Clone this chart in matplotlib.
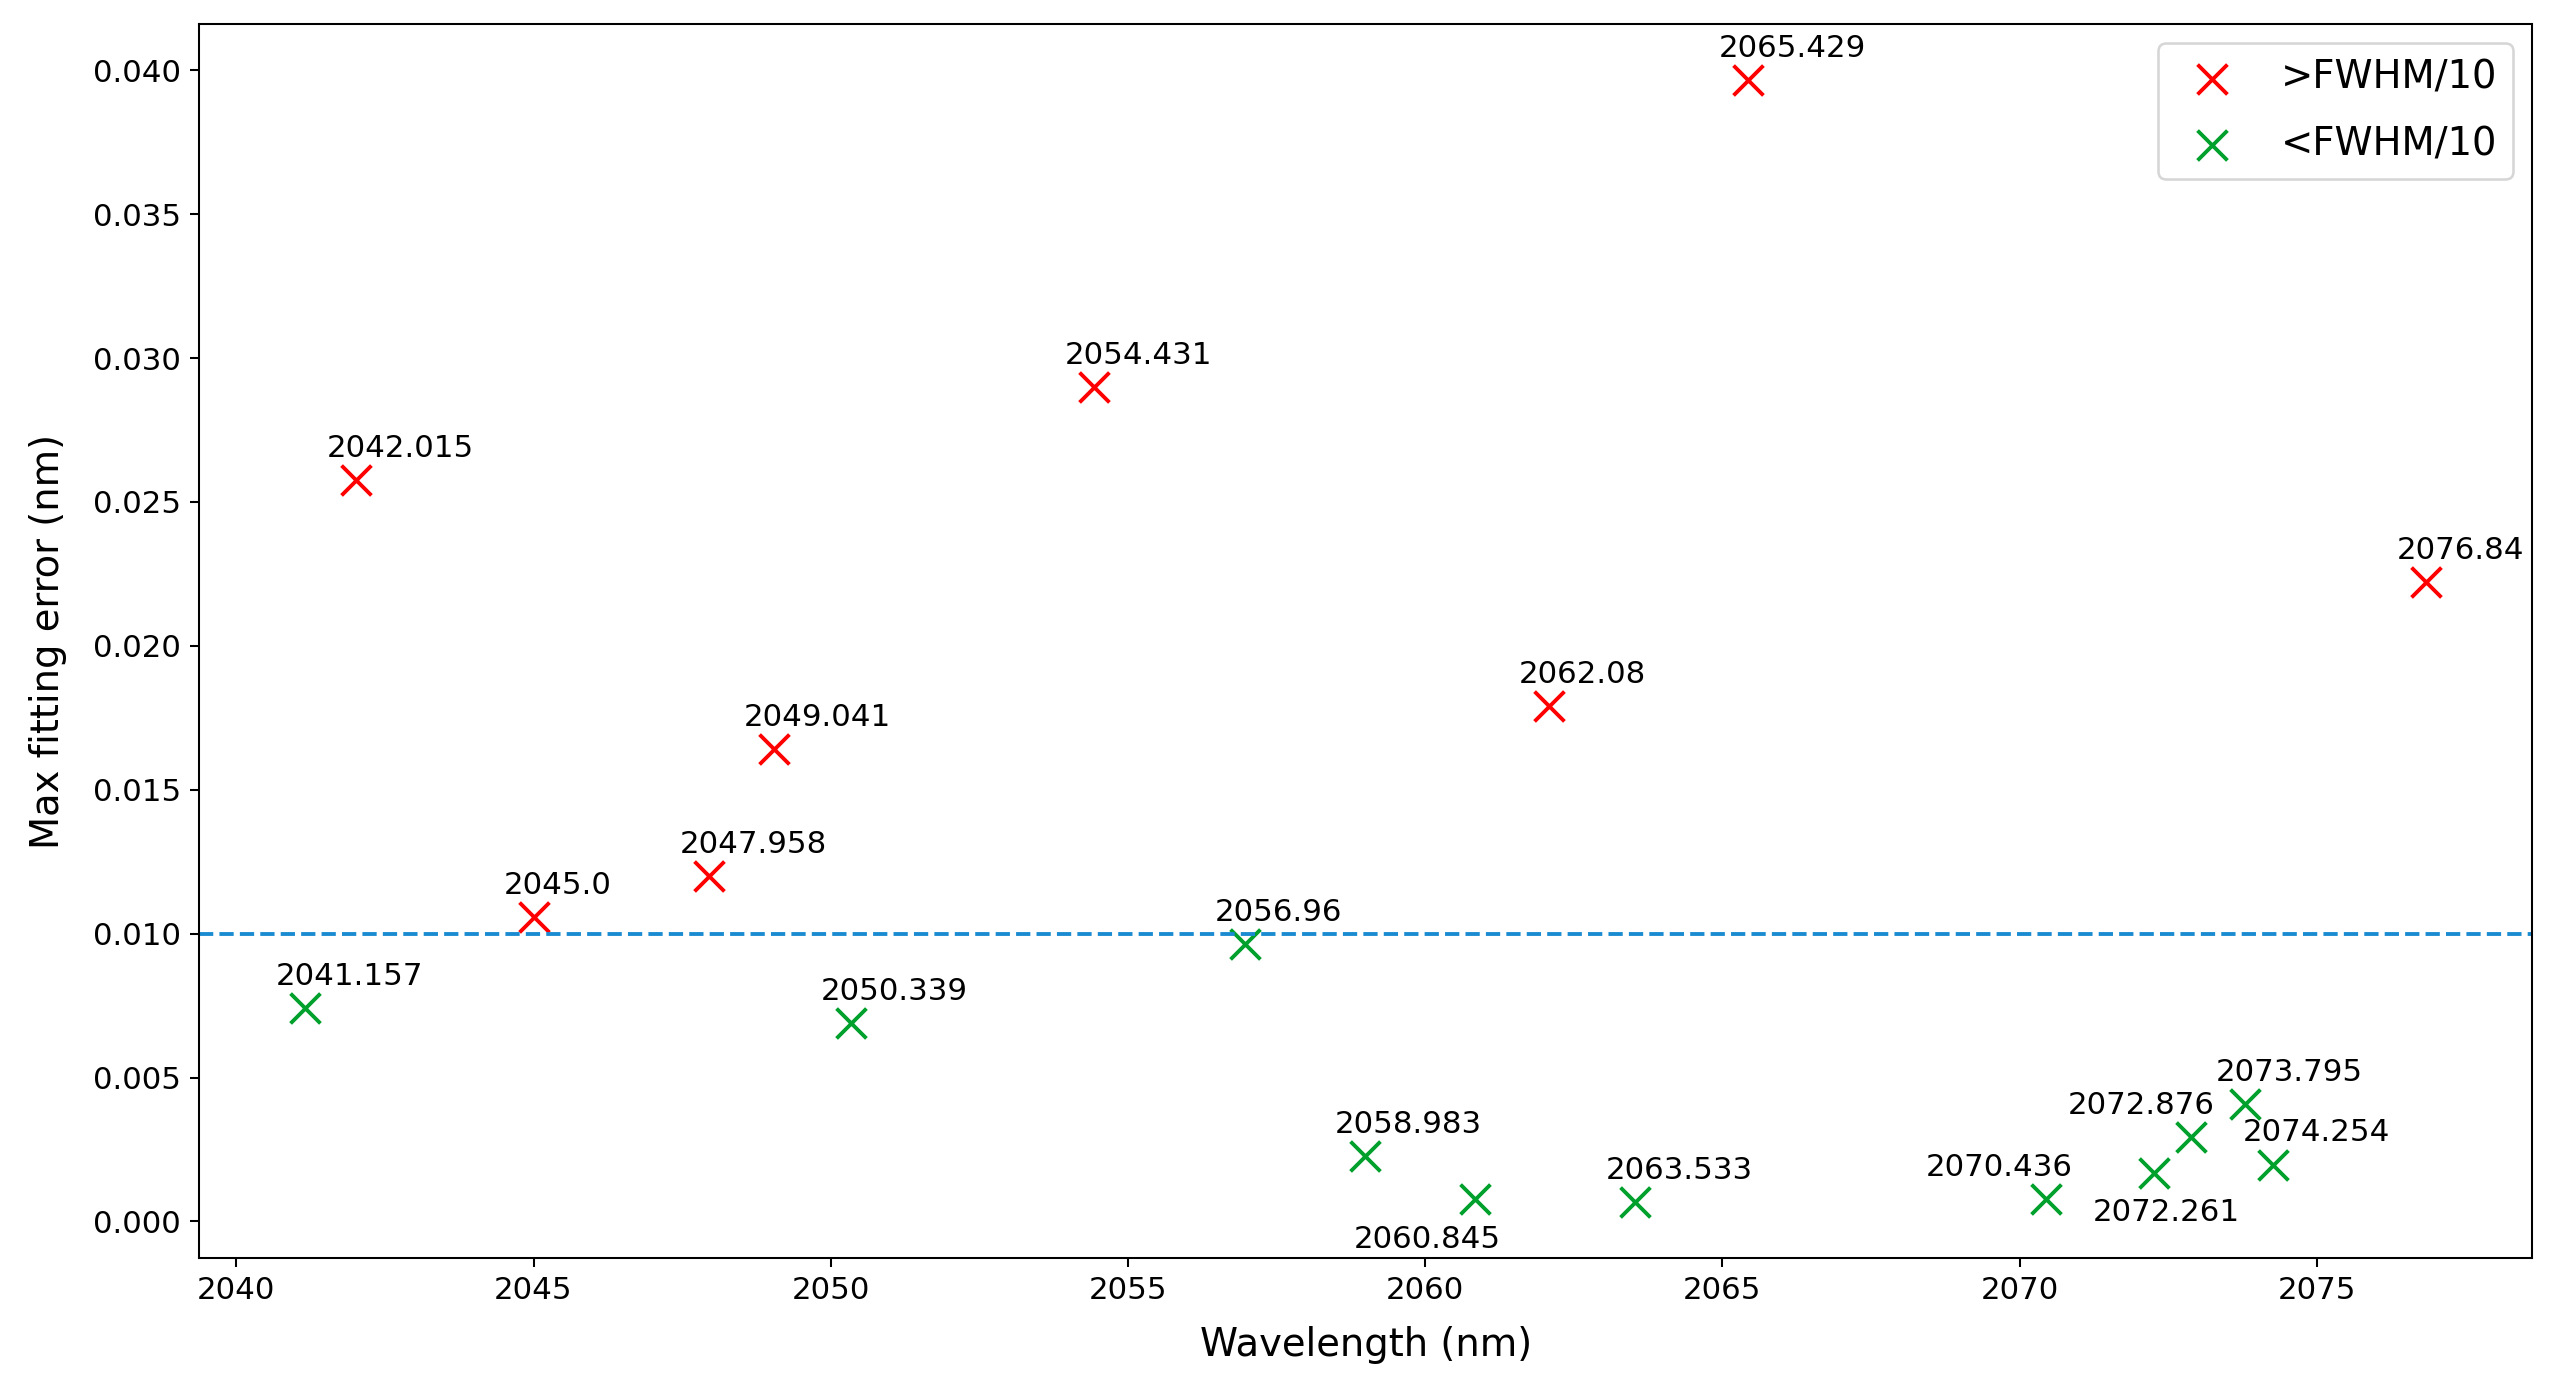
import numpy as np
import matplotlib
matplotlib.use("Agg")
import matplotlib.pyplot as plt

#<---------------------Datos---------------------------------------------->
wl_high=[2042.015,2045.0,2047.958,2049.041,2054.431,2062.08,2065.429,2076.84]
err_high=[0.02578,0.01059,0.01201,0.01643,0.02901,0.01790,0.03966,0.02221]
wl_low=[2041.157,2050.339,2056.96,2058.983,2060.845,2063.533,2070.436,2072.261,2072.876,2073.795,2074.254]
err_low=[0.00742,0.00691,0.00963,0.00227,0.00079,0.00068,0.00079,0.00170,0.00295,0.00408,0.00198]
threshold=0.010
# desplazamiento (dx, dy) de las etiquetas en unidades de datos
shift_default=(-0.5,0.0008)
shift_special={2060.845:(-2.05,-0.0017),2072.261:(-1.04,-0.0017),
               2072.876:(-2.07,0.0008),2070.436:(-2.02,0.0008)}

dpi=185
fig,ax=plt.subplots(figsize=(2558/dpi,1387/dpi),dpi=dpi)
plt.subplots_adjust(left=0.0778,right=0.990,bottom=0.093,top=0.9827)

ax.scatter(wl_high,err_high,marker="x",color="red",s=135,linewidths=1.5,label=">FWHM/10")
ax.scatter(wl_low,err_low,marker="x",color="#00a02c",s=135,linewidths=1.5,label="<FWHM/10")
ax.axhline(threshold,ls="--",color="#1a8bd0",lw=1.5)

for x,y in zip(wl_high+wl_low,err_high+err_low):
    dx,dy=shift_special.get(x,shift_default)
    ax.text(x+dx,y+dy,str(x),fontsize=12)

ax.set_xlabel("Wavelength (nm)",fontsize=15,labelpad=8)
ax.set_ylabel("Max fitting error (nm)",fontsize=15,labelpad=10)
ax.tick_params(labelsize=12)
ax.legend(loc="upper right",fontsize=15,labelspacing=0.75)
plt.savefig("out.png",dpi=dpi)
